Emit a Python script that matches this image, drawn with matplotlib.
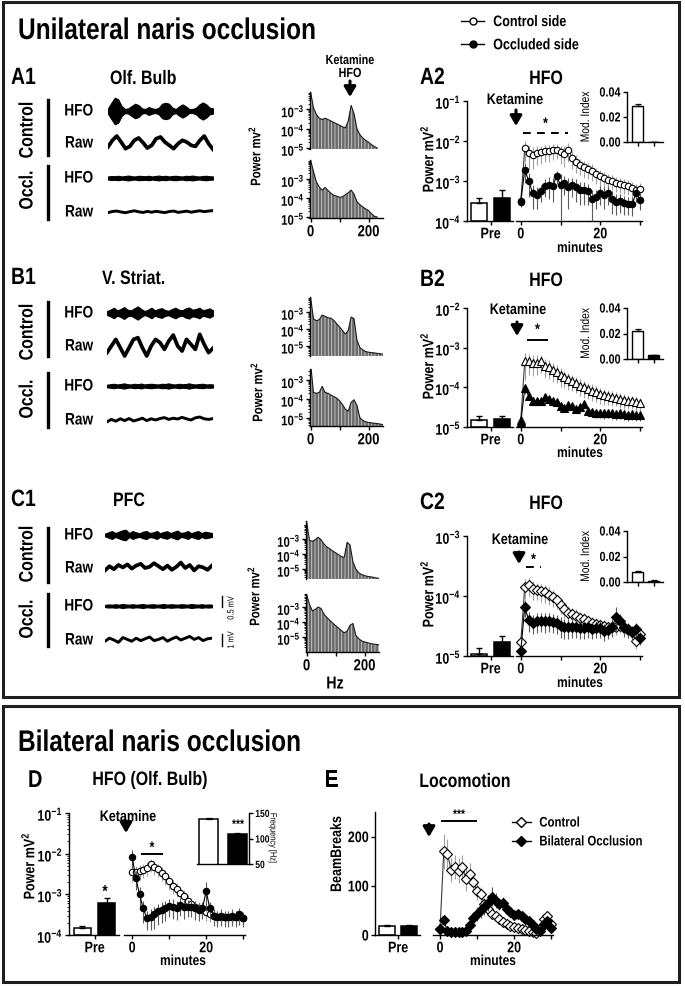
"""Unilateral / bilateral naris occlusion: HFO traces, spectra and time courses."""
import matplotlib
matplotlib.use("Agg")
import matplotlib.pyplot as plt
from matplotlib.lines import Line2D
from matplotlib.patches import Rectangle, PathPatch
from matplotlib.textpath import TextPath
from matplotlib.transforms import Affine2D, IdentityTransform
from matplotlib.ticker import FixedLocator, FixedFormatter, LogLocator, NullFormatter

W, H = 685, 987
plt.rcParams.update({
    "font.family": ["Liberation Sans", "DejaVu Sans"],
    "font.weight": "bold",
    "mathtext.fontset": "custom",
    "mathtext.rm": "Liberation Sans:bold",
    "mathtext.bf": "Liberation Sans:bold",
    "mathtext.it": "Liberation Sans:bold",
    "hatch.color": "#cfcfcf",
    "hatch.linewidth": 0.6,
    "axes.linewidth": 1.0,
    "xtick.major.width": 1.0, "ytick.major.width": 1.0,
    "xtick.major.size": 3, "ytick.major.size": 3,
    "ytick.minor.size": 1.6, "ytick.minor.width": 0.6,
    "xtick.major.pad": 1.5, "ytick.major.pad": 1.5,
})
SQUEEZE = 0.82  # the original lettering is a narrow (condensed) sans

# ---------------- data ----------------
# example LFP traces (mV), HFO as envelope half-width, raw as slow wave
A1_CTRL_HFO = [0.12, 0.37, 0.6, 0.53, 0.23, 0.09, 0.12, 0.23, 0.33, 0.27, 0.12, 0.09, 0.18, 0.12, 0.09, 0.15,
               0.33, 0.37, 0.33, 0.15, 0.09, 0.21, 0.3, 0.21, 0.09, 0.09, 0.15, 0.3, 0.39, 0.3, 0.15, 0.12]
A1_CTRL_RAW = [-0.33, 0.22, 0.58, 0.08, -0.47, -0.28, 0.22, 0.42, 0.03, -0.42, -0.19, 0.36, 0.5, 0.08, -0.19,
               -0.47, -0.06, 0.22, 0.08, -0.19, -0.28, 0.22, 0.58, -0.06, -0.53]
A1_OCC_HFO = [0.07, 0.09, 0.08, 0.1, 0.07, 0.09, 0.11, 0.08, 0.07, 0.1, 0.09, 0.08, 0.1, 0.07, 0.09, 0.11,
              0.08, 0.1, 0.07, 0.09, 0.1, 0.08, 0.07, 0.1, 0.09, 0.11, 0.08, 0.07, 0.09, 0.1, 0.08, 0.07]
A1_OCC_RAW = [-0.05, 0.04, 0.08, 0.0, -0.06, 0.03, 0.1, 0.02, -0.04, 0.05, -0.02, 0.06, 0.0, -0.05, 0.04,
              0.08, -0.03, 0.02, 0.07, -0.02, 0.05, 0.1, 0.03, 0.08, 0.12]
B1_CTRL_HFO = [0.09, 0.15, 0.24, 0.12, 0.18, 0.27, 0.15, 0.12, 0.21, 0.3, 0.18, 0.09, 0.15, 0.24, 0.12, 0.18,
               0.22, 0.13, 0.1, 0.18, 0.24, 0.15, 0.12, 0.21, 0.25, 0.15, 0.18, 0.24, 0.13, 0.16, 0.21, 0.12]
B1_CTRL_RAW = [-0.55, 0.0, 0.55, -0.14, -0.83, -0.14, 0.55, 0.69, -0.14, -0.83, 0.0, 0.55, 0.28, -0.28, 0.42,
               0.91, 0.0, -0.42, 0.55, 0.14, -0.28, 0.97, 0.14, -0.55, -0.19]
B1_OCC_HFO = [0.06, 0.08, 0.1, 0.07, 0.09, 0.12, 0.08, 0.07, 0.1, 0.08, 0.11, 0.07, 0.09, 0.1, 0.08, 0.07,
              0.1, 0.09, 0.12, 0.08, 0.07, 0.1, 0.08, 0.09, 0.12, 0.08, 0.07, 0.09, 0.1, 0.07, 0.08, 0.07]
B1_OCC_RAW = [-0.15, 0.05, -0.1, 0.1, -0.05, 0.12, -0.08, 0.02, 0.15, -0.05, 0.1, 0.0, 0.12, 0.2, 0.05, 0.15,
              0.08, 0.22, 0.1, 0.0, 0.18, 0.25, 0.1, 0.05, 0.12]
C1_CTRL_HFO = [0.06, 0.12, 0.18, 0.09, 0.15, 0.21, 0.24, 0.09, 0.18, 0.12, 0.08, 0.15, 0.18, 0.09, 0.12, 0.18,
               0.08, 0.14, 0.17, 0.09, 0.15, 0.2, 0.09, 0.12, 0.18, 0.08, 0.14, 0.18, 0.09, 0.15, 0.12, 0.09]
C1_CTRL_RAW = [-0.2, 0.15, -0.1, 0.25, 0.05, 0.3, -0.05, 0.2, 0.35, 0.0, 0.1, 0.4, 0.15, -0.1, 0.2, -0.15,
               0.1, 0.45, 0.0, 0.25, -0.2, 0.15, 0.05, -0.15, 0.2]
C1_OCC_HFO = [0.05, 0.07, 0.06, 0.08, 0.06, 0.09, 0.07, 0.06, 0.08, 0.06, 0.07, 0.09, 0.06, 0.07, 0.08, 0.06,
              0.07, 0.09, 0.06, 0.08, 0.07, 0.06, 0.08, 0.07, 0.06, 0.09, 0.07, 0.06, 0.08, 0.06, 0.07, 0.06]
C1_OCC_RAW = [-0.1, 0.15, 0.0, -0.2, 0.2, 0.05, -0.1, 0.15, -0.05, 0.1, 0.25, -0.05, 0.05, 0.2, -0.1, 0.1,
              0.25, 0.0, 0.15, 0.3, 0.05, 0.2, -0.05, 0.1, 0.15]

# power spectra (mV^2), 10 Hz steps
FREQ_A = list(range(0, 240, 10))
FREQ_BC = list(range(0, 260, 10))
SPEC_A_CTRL = [8e-3, 1.2e-3, 5.5e-4, 3.5e-4, 3.0e-4, 3.5e-4, 3.0e-4, 2.5e-4, 2.1e-4, 1.8e-4, 1.5e-4, 1.25e-4,
               1.1e-4, 2.5e-4, 1.6e-3, 6e-4, 1e-4, 5e-5, 3.3e-5, 2.5e-5, 2e-5, 1.5e-5, 1.2e-5, 1e-5]
SPEC_A_OCC = [1e-2, 2.5e-3, 7e-4, 3.8e-4, 2.6e-4, 3.6e-4, 2.5e-4, 1.8e-4, 1.4e-4, 1.25e-4, 1.1e-4, 1.15e-4,
              1.5e-4, 1.9e-4, 2.6e-4, 1.6e-4, 6.5e-5, 4.5e-5, 3.4e-5, 2.7e-5, 2.2e-5, 1.5e-5, 1.1e-5, 1e-5]
SPEC_B_CTRL = [7e-3, 4e-4, 3e-4, 3.5e-4, 6.5e-4, 5.5e-4, 4.5e-4, 4.3e-4, 3.2e-4, 2e-4, 1.3e-4, 8e-5, 5e-5,
               8e-5, 5e-4, 4e-4, 2.2e-5, 8e-6, 5.8e-6, 4.6e-6, 4.2e-6, 4e-6, 3.8e-6, 3.6e-6, 3.4e-6, 3.2e-6]
SPEC_B_OCC = [8e-3, 2.2e-4, 2e-4, 2.2e-4, 4.7e-4, 2.2e-4, 2e-4, 1.6e-4, 1.35e-4, 1.1e-4, 8e-5, 5e-5, 2.8e-5,
              2.2e-5, 6.5e-5, 9e-5, 4.5e-5, 1e-5, 7e-6, 6e-6, 5.5e-6, 5.2e-6, 5e-6, 4.8e-6, 4.5e-6, 4.2e-6]
SPEC_C_CTRL = [1.5e-2, 8e-4, 7e-4, 9e-4, 1.3e-3, 9e-4, 4.6e-4, 3e-4, 2.2e-4, 1.6e-4, 1.2e-4, 9e-5, 6.6e-5,
               6e-5, 6e-4, 4e-4, 3e-5, 1e-5, 5.5e-6, 4.2e-6, 3.6e-6, 3.2e-6, 3e-6, 2.8e-6, 2.5e-6, 2.4e-6]
SPEC_C_OCC = [7e-3, 1.5e-3, 5.5e-4, 7e-4, 1e-3, 8e-4, 3.3e-4, 2e-4, 1.3e-4, 8.5e-5, 5.8e-5, 4e-5, 2.7e-5,
              1.9e-5, 2.5e-5, 6e-5, 8e-5, 1.3e-5, 7.8e-6, 5.5e-6, 4.7e-6, 4.2e-6, 3.7e-6, 3.4e-6, 3.2e-6, 3e-6]

MINUTES = list(range(31))

# A2 olfactory bulb HFO power
A2_PRE = [2.8e-4, 3.7e-4]
A2_PRE_ERR = [0.9e-4, 2.2e-4]
A2_CTRL = [3.2e-4, 6.5e-3, 5.0e-3, 4.5e-3, 5.0e-3, 5.2e-3, 5.5e-3, 5.5e-3, 5.8e-3, 6.0e-3, 5.2e-3, 4.8e-3,
           6.0e-3, 3.8e-3, 3.0e-3, 2.5e-3, 2.2e-3, 2.0e-3, 1.8e-3, 1.5e-3, 1.3e-3, 1.2e-3, 1.05e-3, 1.0e-3,
           9.0e-4, 8.5e-4, 8.0e-4, 7.5e-4, 6.8e-4, 6.0e-4, 6.3e-4]
A2_CTRL_ERR = [0.5e-4, 3.5e-3, 3e-3, 2.5e-3, 2.5e-3, 2.5e-3, 2.5e-3, 2.5e-3, 2.5e-3, 2.5e-3, 2.5e-3, 2.5e-3,
               3e-3, 1.8e-3, 1.4e-3, 1.1e-3, 1e-3, 9e-4, 8e-4, 6.5e-4, 5.5e-4, 5e-4, 4.5e-4, 4.2e-4, 3.8e-4,
               3.5e-4, 3.3e-4, 3e-4, 2.8e-4, 2.5e-4, 2.5e-4]
A2_OCC = [3.0e-4, 1.9e-3, 1.0e-3, 5.0e-4, 4.5e-4, 5.5e-4, 7.5e-4, 8.0e-4, 7.5e-4, 1.3e-3, 8.0e-4, 9.0e-4,
          7.0e-4, 8.0e-4, 7.0e-4, 6.0e-4, 6.0e-4, 5.5e-4, 3.5e-4, 4.0e-4, 5.0e-4, 4.5e-4, 5.0e-4, 3.5e-4,
          3.0e-4, 3.2e-4, 2.8e-4, 2.7e-4, 2.6e-4, 5.0e-4, 3.4e-4]
A2_OCC_ERR = [0.8e-4, 1.0e-3, 6e-4, 3e-4, 2.5e-4, 2.5e-4, 3.5e-4, 4.5e-4, 4.5e-4, 4.5e-4, 7e-4, 4.5e-4, 5e-4,
              4e-4, 4e-4, 3.5e-4, 3.5e-4, 3e-4, 2.5e-4, 2e-4, 2.5e-4, 2.5e-4, 2.5e-4, 2e-4, 1.6e-4, 1.6e-4,
              1.4e-4, 1.3e-4, 1.3e-4, 2e-4, 1.5e-4]
A2_MOD = [0.029, 0.0]
A2_MOD_ERR = [0.0015, 0.0]

# B2 ventral striatum
B2_PRE = [1.5e-5, 1.6e-5]
B2_PRE_ERR = [0.35e-5, 0.25e-5]
B2_CTRL = [1.5e-5, 4.5e-4, 4.5e-4, 4.2e-4, 4.2e-4, 4.5e-4, 3.5e-4, 3.2e-4, 2.8e-4, 2.5e-4, 2.0e-4, 1.8e-4,
           1.6e-4, 1.45e-4, 1.25e-4, 1.1e-4, 1.0e-4, 9e-5, 8.2e-5, 7.5e-5, 6.8e-5, 6.3e-5, 6e-5, 5.6e-5,
           5.5e-5, 5e-5, 4.8e-5, 4.6e-5, 4.5e-5, 4.2e-5, 4.0e-5]
B2_CTRL_ERR = [0.3e-5, 3e-4, 2.5e-4, 2.3e-4, 2.2e-4, 2.2e-4, 1.8e-4, 1.6e-4, 1.4e-4, 1.2e-4, 1e-4, 8.5e-5,
               7.5e-5, 6.5e-5, 5.5e-5, 5e-5, 4.5e-5, 4e-5, 3.6e-5, 3.2e-5, 3e-5, 2.7e-5, 2.5e-5, 2.3e-5,
               2.2e-5, 2e-5, 1.9e-5, 1.8e-5, 1.7e-5, 1.6e-5, 1.5e-5]
B2_OCC = [1.3e-5, 9.4e-5, 6.2e-5, 4.6e-5, 4.4e-5, 4.6e-5, 5.6e-5, 5e-5, 4.6e-5, 4.2e-5, 3.4e-5, 3e-5, 3.6e-5,
          3.3e-5, 2.9e-5, 3.2e-5, 3.8e-5, 2.6e-5, 2.4e-5, 2.3e-5, 2.3e-5, 2.2e-5, 2.3e-5, 2.2e-5, 2.1e-5,
          2.2e-5, 2.1e-5, 2e-5, 2.1e-5, 2e-5, 2e-5]
B2_OCC_ERR = [0.2e-5, 2.5e-5, 1.5e-5, 1e-5, 9e-6, 9e-6, 1e-5, 9e-6, 8e-6, 8e-6, 7e-6, 6e-6, 7e-6, 6e-6, 6e-6,
              6e-6, 7e-6, 6e-6, 6e-6, 6e-6, 6e-6, 6e-6, 6e-6, 6e-6, 6e-6, 6e-6, 6e-6, 6e-6, 6e-6, 6e-6, 6e-6]
B2_MOD = [0.022, 0.003]
B2_MOD_ERR = [0.0012, 0.0003]

# C2 prefrontal cortex
C2_PRE = [1.1e-5, 1.7e-5]
C2_PRE_ERR = [0.27e-5, 0.45e-5]
C2_CTRL = [1.7e-5, 1.4e-4, 1.5e-4, 1.3e-4, 1.25e-4, 1.2e-4, 1.15e-4, 1.05e-4, 9.5e-5, 8.5e-5, 7e-5, 6e-5,
           5.2e-5, 5e-5, 4.7e-5, 4.3e-5, 4.1e-5, 3.8e-5, 3.6e-5, 3.4e-5, 3.3e-5, 3.2e-5, 3.1e-5, 3.1e-5,
           3.0e-5, 3.2e-5, 2.9e-5, 2.7e-5, 2.5e-5, 1.8e-5, 2.3e-5]
C2_CTRL_ERR = [0.3e-5, 5e-5, 5e-5, 4.5e-5, 4e-5, 4e-5, 3.8e-5, 3.5e-5, 3e-5, 2.5e-5, 2e-5, 1.7e-5, 1.5e-5,
               1.4e-5, 1.3e-5, 1.2e-5, 1.1e-5, 1e-5, 9e-6, 9e-6, 8e-6, 8e-6, 8e-6, 8e-6, 8e-6, 8e-6, 7e-6,
               7e-6, 7e-6, 5e-6, 6e-6]
C2_OCC = [1.2e-5, 6.5e-5, 4.0e-5, 3.6e-5, 3.8e-5, 3.9e-5, 3.8e-5, 3.9e-5, 3.7e-5, 3.6e-5, 3.2e-5, 3.0e-5,
          3.0e-5, 3.1e-5, 3.0e-5, 2.9e-5, 2.9e-5, 3.0e-5, 2.8e-5, 2.9e-5, 2.9e-5, 2.6e-5, 2.7e-5, 3.1e-5,
          4.5e-5, 3.8e-5, 3.0e-5, 2.8e-5, 2.5e-5, 2.8e-5, 2.0e-5]
C2_OCC_ERR = [0.2e-5, 2e-5, 1.5e-5, 1.3e-5, 1.4e-5, 1.4e-5, 1.4e-5, 1.4e-5, 1.3e-5, 1.3e-5, 1.2e-5, 1.1e-5,
              1.1e-5, 1.1e-5, 1e-5, 1e-5, 1e-5, 1e-5, 9e-6, 9e-6, 9e-6, 8e-6, 8e-6, 1e-5, 2e-5, 1.2e-5, 9e-6,
              8e-6, 7e-6, 8e-6, 5e-6]
C2_MOD = [0.008, 0.001]
C2_MOD_ERR = [0.0006, 0.0003]

# D bilateral occlusion, olfactory bulb HFO
D_PRE = [1.45e-4, 6.2e-4]
D_PRE_ERR = [0.25e-4, 2.1e-4]
D_CTRL = [3.5e-3, 3.5e-3, 3.8e-3, 4.0e-3, 4.5e-3, 5.5e-3, 4.8e-3, 4.2e-3, 3.4e-3, 2.8e-3, 2.1e-3, 1.6e-3,
          1.35e-3, 1.1e-3, 9e-4, 7e-4, 5.8e-4, 5e-4, 4.5e-4, 4.2e-4, 3.6e-4, 3.3e-4, 3e-4, 2.8e-4, 2.8e-4,
          2.7e-4, 2.8e-4, 2.7e-4, 2.8e-4, 2.7e-4, 2.6e-4]
D_CTRL_ERR = [1.5e-3, 1.5e-3, 1.5e-3, 1.5e-3, 1.6e-3, 2e-3, 1.8e-3, 1.5e-3, 1.3e-3, 1.1e-3, 8e-4, 6e-4, 5e-4,
              4e-4, 3.5e-4, 2.8e-4, 2.3e-4, 2e-4, 1.8e-4, 1.6e-4, 1.4e-4, 1.2e-4, 1.1e-4, 1e-4, 1e-4, 9e-5,
              1e-4, 9e-5, 1e-4, 9e-5, 9e-5]
D_OCC = [8.5e-3, 2.5e-3, 1.0e-3, 4.5e-4, 2.6e-4, 2.8e-4, 3.2e-4, 3.8e-4, 4.2e-4, 4.6e-4, 5.2e-4, 5e-4, 4.6e-4,
         5.5e-4, 4.8e-4, 5e-4, 5e-4, 4.6e-4, 4.2e-4, 4.5e-4, 1.2e-3, 4.5e-4, 3e-4, 2.8e-4, 3e-4, 2.7e-4,
         2.8e-4, 3e-4, 2.7e-4, 3.2e-4, 2.6e-4]
D_OCC_ERR = [4e-3, 1.2e-3, 5e-4, 2.5e-4, 1.3e-4, 1.5e-4, 1.8e-4, 2e-4, 2.2e-4, 2.4e-4, 2.5e-4, 2.5e-4, 2.3e-4,
             2.5e-4, 2.3e-4, 2.3e-4, 2.3e-4, 2.2e-4, 2e-4, 2e-4, 8e-4, 2e-4, 1.3e-4, 1.2e-4, 1.3e-4, 1.1e-4,
             1.2e-4, 1.3e-4, 1.1e-4, 1.4e-4, 1e-4]
D_FREQ = [138, 109]
D_FREQ_ERR = [1.5, 2.0]

# E locomotion (beam breaks)
E_PRE = [18, 18]
E_PRE_ERR = [3, 3]
E_CTRL = [12, 170, 165, 132, 138, 131, 138, 114, 124, 107, 90, 83, 63, 53, 43, 39, 33, 26, 22, 19, 16, 14,
          12, 10, 9, 7, 5, 12, 33, 39, 22]
E_CTRL_ERR = [4, 35, 30, 25, 25, 25, 25, 25, 22, 20, 18, 15, 12, 10, 9, 8, 7, 6, 5, 5, 4, 4, 4, 4, 3, 3, 3,
              4, 6, 8, 5]
E_OCC = [12, 30, 8, 7, 6, 6, 7, 9, 20, 35, 43, 50, 56, 65, 78, 70, 63, 66, 53, 46, 40, 43, 39, 33, 28, 20,
         12, 8, 22, 29, 14]
E_OCC_ERR = [4, 8, 3, 2, 2, 2, 2, 3, 8, 12, 14, 15, 15, 16, 20, 15, 12, 12, 10, 8, 7, 7, 6, 6, 5, 5, 4, 3,
             5, 6, 4]

# ---------------- figure ----------------
fig = plt.figure(figsize=(W / 100, H / 100), dpi=100)


def add(x0, y0, x1, y1):
    """axes from a pixel box (origin top-left)"""
    return fig.add_axes([x0 / W, 1 - y1 / H, (x1 - x0) / W, (y1 - y0) / H])


def mt(e):
    return r"$\mathbf{10^{%d}}$" % e


def only(ax, *keep):
    for s in ("left", "right", "top", "bottom"):
        ax.spines[s].set_visible(s in keep)


def trace(x0, x1, yc, vals, kind, lw=2.2):
    ax = add(x0, yc - 15, x1, yc + 15)
    ax.axis("off")
    idx = list(range(len(vals)))
    ax.set_xlim(0, len(vals) - 1)
    if kind == "hfo":
        ax.set_ylim(-0.68, 0.68)
        ax.fill_between(idx, [-v for v in vals], vals, color="black", lw=0.8)
    else:
        ax.set_ylim(-1.25, 1.25)
        ax.plot(idx, vals, color="black", lw=lw)
    return ax


def spectrum(x0, y0, y1, freqs, vals, ylim, bottom_axis):
    ax = add(x0, y0, x0 + 73, y1)
    ax.fill_between(freqs, vals, ylim[0], facecolor="#6a6a6a", hatch="|||||", linewidth=0)
    ax.plot(freqs, vals, color="#1a1a1a", lw=0.8)
    ax.set_yscale("log")
    ax.set_ylim(*ylim)
    ax.set_xlim(-2, 250)
    ax.yaxis.set_major_locator(FixedLocator([1e-5, 1e-4, 1e-3]))
    ax.yaxis.set_major_formatter(FixedFormatter([mt(-5), mt(-4), mt(-3)]))
    ax.yaxis.set_minor_locator(LogLocator(base=10, subs=range(2, 10), numticks=20))
    ax.yaxis.set_minor_formatter(NullFormatter())
    ax.tick_params(axis="y", labelsize=10, pad=1)
    if bottom_axis:
        only(ax, "left", "bottom")
        ax.set_xticks([0, 100, 200])
        ax.set_xticklabels(["0", "", "200"], fontsize=11.5)
    else:
        only(ax, "left")
        ax.set_xticks([])
    return ax


def log_ticks(ax, lo, hi, minor=False):
    exps = list(range(lo, hi + 1))
    ax.yaxis.set_major_locator(FixedLocator([10.0 ** e for e in exps]))
    ax.yaxis.set_major_formatter(FixedFormatter([mt(e) for e in exps]))
    if minor:
        ax.yaxis.set_minor_locator(LogLocator(base=10, subs=range(2, 10), numticks=20))
    else:
        ax.yaxis.set_minor_locator(FixedLocator([]))
    ax.yaxis.set_minor_formatter(NullFormatter())


def pre_axes(box, ylim, vals, errs, log):
    ax = add(*box)
    base = ylim[0]
    ax.bar([0, 1], [v - base for v in vals], bottom=base, width=0.7, color=["white", "black"],
           edgecolor="black", linewidth=1.1, zorder=2)
    ax.errorbar([0, 1], vals, yerr=[[0, 0], errs], fmt="none", ecolor="black", elinewidth=1.0,
                capsize=2.5, capthick=1.0, zorder=3)
    if log:
        ax.set_yscale("log")
    ax.set_ylim(*ylim)
    ax.set_xlim(-0.55, 1.5)
    only(ax, "left", "bottom")
    ax.set_xticks([0.5])
    ax.set_xticklabels(["Pre"], fontsize=11)
    ax.tick_params(axis="y", labelsize=11)
    return ax


def time_axes(box, ylim, tlim, ctrl, cerr, occ, oerr, marker, log, ms=4.6):
    ax = add(*box)
    ax.errorbar(MINUTES, ctrl, yerr=cerr, fmt="-", marker=marker, color="#3a3a3a", mfc="white", mec="black",
                mew=0.8, ms=ms, lw=0.8, ecolor="#a0a0a0", elinewidth=0.8, capsize=0, zorder=2,
                clip_on=False)
    ax.errorbar(MINUTES, occ, yerr=oerr, fmt="-", marker=marker, color="black", mfc="black", mec="black",
                mew=0.8, ms=ms, lw=0.8, ecolor="#5a5a5a", elinewidth=0.8, capsize=0, zorder=3,
                clip_on=False)
    if log:
        ax.set_yscale("log")
    ax.set_ylim(*ylim)
    ax.set_xlim(*tlim)
    only(ax, "bottom")
    ax.set_yticks([])
    ax.minorticks_off()
    ax.set_xticks([0, 10, 20, 30])
    ax.set_xticklabels(["0", "", "20", ""], fontsize=11)
    return ax


def inset_mod(box, vals, errs):
    ax = add(*box)
    ax.bar([0, 1], vals, width=0.67, color=["white", "black"], edgecolor="black", linewidth=1.0)
    ax.errorbar([0, 1], vals, yerr=[[0, 0], errs], fmt="none", ecolor="black", elinewidth=0.9,
                capsize=2, capthick=0.9)
    ax.set_ylim(0, 0.04)
    ax.set_xlim(-0.64, 1.55)
    only(ax, "left", "bottom")
    ax.set_xticks([0, 1])
    ax.set_xticklabels(["", ""])
    ax.set_yticks([0, 0.02, 0.04])
    ax.set_yticklabels(["0.00", "0.02", "0.04"], fontsize=9.5)
    ax.set_ylabel("Mod. Index", fontsize=9, labelpad=2)
    return ax


over = fig.add_axes([0, 0, 1, 1], zorder=10)
over.set_xlim(0, W)
over.set_ylim(H, 0)
over.axis("off")


def txt(x, y, s, size, ha="center", va="center", rot=0, weight="bold", **kw):
    over.text(x, y, s, fontsize=size, ha=ha, va=va, rotation=rot, fontweight=weight, **kw)


def arrow(x, y0, y1):
    over.annotate("", xy=(x, y1), xytext=(x, y0),
                  arrowprops=dict(arrowstyle="-|>,head_width=0.35,head_length=0.6", lw=2.2, color="black",
                                  shrinkA=0, shrinkB=0))


def sig(x0, x1, y, star, ys, dashed=False):
    over.plot([x0, x1], [y, y], color="black", lw=1.4, ls=(0, (4, 3.2)) if dashed else "-")
    txt((x0 + x1) / 2, ys, star, 11 if star == "*" else 9)


# frames
over.add_patch(Rectangle((3, 3), 676, 695, fill=False, lw=2.2, ec="#1e1e1e"))
over.add_patch(Rectangle((3, 707), 676, 276, fill=False, lw=2.2, ec="#1e1e1e"))

# titles
txt(18, 40, "Unilateral naris occlusion", 21.5, ha="left", va="baseline")
txt(18, 752, "Bilateral naris occlusion", 21.5, ha="left", va="baseline")

# ---- traces (A1, B1, C1)
rows = [
    ("A1", "Olf. Bulb", 85, 110, [112, 144, 179, 213], (101, 156, 167, 220), (131, 191), 108, 213,
     [A1_CTRL_HFO, A1_CTRL_RAW, A1_OCC_HFO, A1_OCC_RAW]),
    ("B1", "V. Striat.", 285, 102, [314, 347, 387, 421], (303, 357, 374, 428), (333, 400), 107, 213,
     [B1_CTRL_HFO, B1_CTRL_RAW, B1_OCC_HFO, B1_OCC_RAW]),
    ("C1", "PFC", 507, 113, [536, 569, 607, 641], (529, 583, 595, 647), (555, 620), 105, 212,
     [C1_CTRL_HFO, C1_CTRL_RAW, C1_OCC_HFO, C1_OCC_RAW]),
]
trace_axes = []
for lab, region, base, rx, ycs, bars, grp, x0, x1, series in rows:
    txt(11, base, lab, 17, ha="left", va="baseline")
    txt(rx, base, region, 14, ha="left", va="baseline")
    txt(28, grp[0], "Control", 14, rot=90)
    txt(28, grp[1], "Occl.", 14, rot=90)
    over.plot([48, 48], [bars[0], bars[1]], color="black", lw=2.4)
    over.plot([48, 48], [bars[2], bars[3]], color="black", lw=2.4)
    axs = []
    for yc, vals, name in zip(ycs, series, ["HFO", "Raw", "HFO", "Raw"]):
        txt(93, yc, name, 12, ha="right")
        kind = "hfo" if name == "HFO" else "raw"
        lw = 2.7 if vals is series[1] else 2.1
        axs.append(trace(x0, x1, yc, vals, kind, lw))
    trace_axes.append(axs)

# C1 scale bars
c_hfo, c_raw = trace_axes[2][2], trace_axes[2][3]
c_hfo.plot([33.9, 33.9], [-0.05, 0.45], color="black", lw=1.0, clip_on=False)
c_raw.plot([26.2, 26.2], [-0.5, 0.5], color="black", lw=1.0, clip_on=False)
txt(231, 609, "0.5 mV", 6.5, rot=90, weight="normal")
txt(231, 641, "1 mV", 6.5, rot=90, weight="normal")

# ---- spectra
spectrum(310, 93, 150, FREQ_A, SPEC_A_CTRL, (10 ** -5.05, 10 ** -2.1), False)
spectrum(310, 161, 219, FREQ_A, SPEC_A_OCC, (10 ** -5.05, 10 ** -2.0), True)
spectrum(310, 298, 357, FREQ_BC, SPEC_B_CTRL, (10 ** -5.6, 10 ** -2.12), False)
spectrum(310, 370, 427, FREQ_BC, SPEC_B_OCC, (10 ** -5.45, 10 ** -2.4), True)
spectrum(306, 522, 580, FREQ_BC, SPEC_C_CTRL, (10 ** -5.67, 10 ** -1.8), False)
spectrum(306, 595, 653, FREQ_BC, SPEC_C_OCC, (10 ** -6.0, 10 ** -2.13), True)
for x, y in [(254, 157), (256, 393), (253, 597)]:
    txt(x, y, r"Power mv$^\mathbf{2}$", 10, rot=90)
txt(335, 685, "Hz", 12.5)
txt(350, 62, "Ketamine", 9.5)
txt(350, 75, "HFO", 9.5)
arrow(350, 82, 98)

# ---- A2, B2, C2
panels = [
    ("A2", 85, 102, 222, (-4, -1), A2_PRE, A2_PRE_ERR, A2_CTRL, A2_CTRL_ERR, A2_OCC, A2_OCC_ERR, "o",
     (93, 143), A2_MOD, A2_MOD_ERR, 160, 249),
    ("B2", 287, 309, 428, (-5, -2), B2_PRE, B2_PRE_ERR, B2_CTRL, B2_CTRL_ERR, B2_OCC, B2_OCC_ERR, "^",
     (309, 360), B2_MOD, B2_MOD_ERR, 367, 454),
    ("C2", 510, 537, 657, (-5, -3), C2_PRE, C2_PRE_ERR, C2_CTRL, C2_CTRL_ERR, C2_OCC, C2_OCC_ERR, "D",
     (532, 583), C2_MOD, C2_MOD_ERR, 595, 684),
]
for lab, base, y0, y1, (elo, ehi), pre, pre_e, ctrl, ce, occ, oe, mk, ibox, mod, mod_e, ylab_y, min_y in panels:
    ylim = (10.0 ** elo, 10.0 ** ehi)
    pa = pre_axes((467, y0, 513, y1), ylim, pre, pre_e, True)
    log_ticks(pa, elo, ehi)
    time_axes((516, y0, 642, y1), ylim, (-1.2, 30.5), ctrl, ce, occ, oe, mk, True,
              ms=5.2 if mk != "o" else 4.6)
    inset_mod((627, ibox[0], 663, ibox[1]), mod, mod_e)
    txt(420, base, lab, 17, ha="left", va="baseline")
    txt(546, base, "HFO", 14, va="baseline")
    txt(427, ylab_y, r"Power mV$^\mathbf{2}$", 11, rot=90)
    txt(580, min_y, "minutes", 10.5)

txt(515, 101, "Ketamine", 11)
arrow(516, 111, 127)
sig(523, 568, 134, "*", 125, dashed=True)
txt(518, 311, "Ketamine", 11)
arrow(517, 323, 337)
sig(528, 547, 341, "*", 331)
txt(520, 541, "Ketamine", 11)
arrow(519, 553, 565)
sig(526, 541, 568, "*", 561, dashed=True)

# top legend
leg_handles = [
    Line2D([], [], color="black", lw=1.0, marker="o", mfc="white", mec="black", ms=5),
    Line2D([], [], color="black", lw=1.0, marker="o", mfc="black", mec="black", ms=5),
]
fig.legend(leg_handles, ["Control side", "Occluded side"], loc="upper left",
           bbox_to_anchor=(455 / W, 1 - 10 / H), frameon=False, fontsize=11, handlelength=1.5,
           handletextpad=0.6, labelspacing=0.6, borderaxespad=0)

# ---- D
d_pre = pre_axes((69, 814, 119, 936), (1e-4, 1e-1), D_PRE, D_PRE_ERR, True)
log_ticks(d_pre, -4, -1, minor=True)
time_axes((124, 814, 245, 936), (1e-4, 1e-1), (-2.2, 30.5), D_CTRL, D_CTRL_ERR, D_OCC, D_OCC_ERR, "o", True)
fq = add(197, 814, 249, 865)
fq.bar([0, 1], D_FREQ, width=0.66, bottom=0, color=["white", "black"], edgecolor="black", linewidth=1.1)
fq.errorbar([0, 1], D_FREQ, yerr=[[0, 0], D_FREQ_ERR], fmt="none", ecolor="black", elinewidth=0.9,
            capsize=2, capthick=0.9)
fq.set_ylim(50, 150)
fq.set_xlim(-0.4, 1.4)
only(fq, "right", "bottom")
fq.set_xticks([])
fq.yaxis.tick_right()
fq.set_yticks([50, 100, 150])
fq.set_yticklabels(["50", "100", "150"], fontsize=7.5)
txt(273, 839, "Frequency [Hz]", 6.5, rot=270, weight="normal")
txt(238, 826, "***", 9)

txt(28, 788, "D", 17.5, ha="left", va="baseline")
txt(150, 786, "HFO (Olf. Bulb)", 14, va="baseline")
txt(28, 867, r"Power mV$^\mathbf{2}$", 11, rot=90)
txt(183, 962, "minutes", 10.5)
txt(128, 818, "Ketamine", 11)
arrow(126, 822, 834)
sig(142, 162, 855, "*", 849)
txt(105, 893, "*", 12)

# ---- E
e_pre = pre_axes((375, 813, 420, 936), (0, 250), E_PRE, E_PRE_ERR, False)
e_pre.set_yticks([0, 100, 200])
e_pre.set_yticklabels(["0", "100", "200"])
time_axes((433, 813, 553, 936), (0, 250), (-1.9, 30.5), E_CTRL, E_CTRL_ERR, E_OCC, E_OCC_ERR, "D", False,
          ms=5.2)
txt(325, 788, "E", 17.5, ha="left", va="baseline")
txt(465, 788, "Locomotion", 14, va="baseline")
txt(337, 855, "BeamBreaks", 11, rot=90)
txt(493, 962, "minutes", 10.5)
arrow(429, 825, 838)
sig(442, 476, 822, "***", 816)
e_handles = [
    Line2D([], [], color="black", lw=1.0, marker="D", mfc="white", mec="black", ms=5),
    Line2D([], [], color="black", lw=1.0, marker="D", mfc="black", mec="black", ms=5),
]
fig.legend(e_handles, ["Control", "Bilateral Occlusion"], loc="upper left",
           bbox_to_anchor=(506 / W, 1 - 811 / H), frameon=False, fontsize=10, handlelength=1.4,
           handletextpad=0.6, labelspacing=0.35, borderaxespad=0)


# ---- swap every text for a horizontally squeezed outline (no narrow font installed)
def squeeze_texts(sx):
    fig.canvas.draw()
    r = fig.canvas.get_renderer()
    texts = []
    for ax in fig.axes:
        texts += list(ax.texts)
        if ax.axison:
            texts += list(ax.get_xticklabels()) + list(ax.get_yticklabels())
            texts += [ax.xaxis.label, ax.yaxis.label]
    for lg in fig.legends:
        texts += list(lg.get_texts())
    for t in texts:
        s = t.get_text()
        if not t.get_visible() or not s.strip():
            continue
        bb = t.get_window_extent(r)
        fp = t.get_fontproperties()
        clean, ismath = t._preprocess_math(s)
        d = max(r.get_text_width_height_descent("lp", fp, ismath=False)[2],
                r.get_text_width_height_descent(clean, fp, ismath=ismath)[2])
        path = TextPath((0, 0), s, size=t.get_fontsize() * fig.dpi / 72, prop=fp)
        rot = round(t.get_rotation()) % 360
        if rot == 90:
            ox, oy = bb.x1 - d, bb.y0 + 0.5 * bb.height * (1 - sx)
        elif rot == 270:
            ox, oy = bb.x0 + d, bb.y1 - 0.5 * bb.height * (1 - sx)
        else:
            frac = {"left": 0.0, "center": 0.5, "right": 1.0}[t.get_horizontalalignment()]
            ox, oy = bb.x0 + frac * bb.width * (1 - sx), bb.y0 + d
        tr = Affine2D().scale(sx, 1).rotate_deg(rot).translate(ox, oy)
        fig.add_artist(PathPatch(tr.transform_path(path), facecolor=t.get_color(), edgecolor="none",
                                 lw=0, transform=IdentityTransform(), zorder=20))
        t.set_visible(False)


squeeze_texts(SQUEEZE)
fig.savefig("out.png", dpi=100)
